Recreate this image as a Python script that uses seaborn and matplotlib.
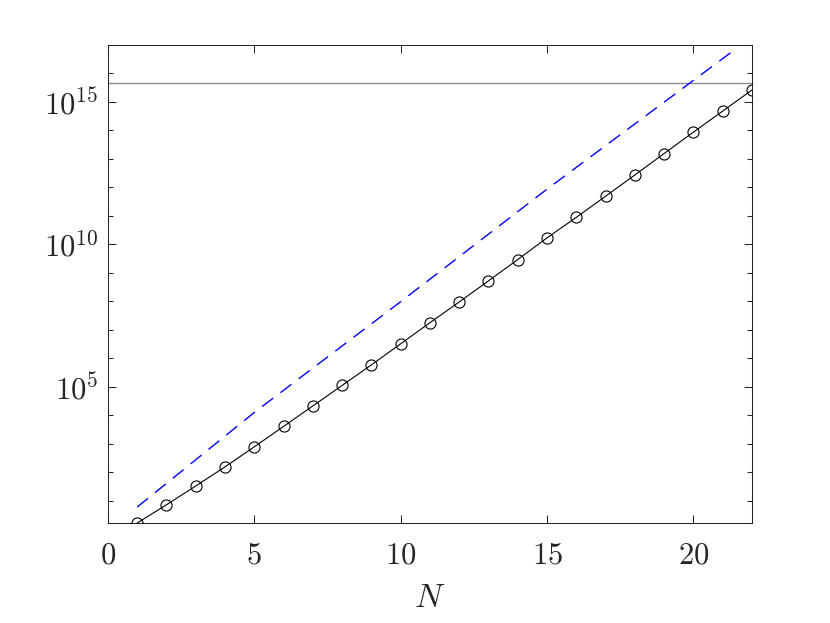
import matplotlib
matplotlib.use("Agg")
import matplotlib.pyplot as plt
import matplotlib.ticker as mticker
import seaborn as sns
import pandas as pd

# values (log-scaled y axis)
n_vals = list(range(1, 23))
kappa = [1.66, 7.24, 33.1, 155, 785, 4.07e3, 2.14e4, 1.12e5, 5.89e5, 3.24e6,
         1.78e7, 9.55e7, 5.25e8, 2.95e9, 1.70e10, 8.91e10, 4.90e11, 2.75e12,
         1.55e13, 8.71e13, 4.79e14, 2.63e15]
bound_n = [1, 5, 10, 15, 21.34]
bound = [6.03, 1.26e4, 9.77e7, 8.71e11, 6.03e16]
eps_level = 4.5e15

y_major = [1e5, 1e10, 1e15]
y_major_labels = ["$10^{5}$", "$10^{10}$", "$10^{15}$"]
x_ticks = [0, 5, 10, 15, 20]

sns.set_style("white")
plt.rcParams["font.family"] = ["DejaVu Serif"]
plt.rcParams["mathtext.fontset"] = "cm"

df = pd.DataFrame({"N": n_vals, "kappa": kappa})
df_b = pd.DataFrame({"N": bound_n, "bound": bound})

fig = plt.figure(figsize=(8.3, 6.23), dpi=100)
ax = fig.add_axes([0.130, 0.1605, 0.776, 0.7673])

ax.axhline(eps_level, color="#8c8c8c", lw=1.0, zorder=1)
sns.lineplot(data=df_b, x="N", y="bound", ax=ax, color="blue", lw=1.0,
             dashes=False, zorder=2)
ax.lines[-1].set_dashes((10, 6.5))
sns.lineplot(data=df, x="N", y="kappa", ax=ax, color="black", lw=0.8,
             marker="o", markersize=8, markerfacecolor="none",
             markeredgecolor="black", markeredgewidth=0.8, zorder=3)

ax.set_yscale("log")
ax.set_xlim(0, 22)
ax.set_ylim(kappa[0], 1e17)

ax.xaxis.set_major_locator(mticker.FixedLocator(x_ticks))
ax.xaxis.set_major_formatter(mticker.FixedFormatter([f"${t}$" for t in x_ticks]))
ax.xaxis.set_minor_locator(mticker.NullLocator())
ax.yaxis.set_major_locator(mticker.FixedLocator(y_major))
ax.yaxis.set_major_formatter(mticker.FixedFormatter(y_major_labels))
ax.yaxis.set_minor_locator(mticker.FixedLocator([10.0 ** k for k in range(0, 18) if k % 5 != 0]))
ax.yaxis.set_minor_formatter(mticker.NullFormatter())

ax.tick_params(which="both", direction="in", top=True, right=True,
               bottom=True, left=True, color="#262626", width=0.75)
ax.tick_params(which="major", length=6, labelsize=22, colors="#262626")
ax.tick_params(axis="x", which="major", pad=12)
ax.tick_params(axis="y", which="major", pad=7)
ax.tick_params(which="minor", length=3.5)

for s in ax.spines.values():
    s.set_color("#262626")
    s.set_linewidth(0.75)
    s.set_visible(True)

ax.set_ylabel("")
ax.set_xlabel("$N$", fontsize=24, color="#262626", labelpad=8)

fig.savefig("out.png", dpi=100)
